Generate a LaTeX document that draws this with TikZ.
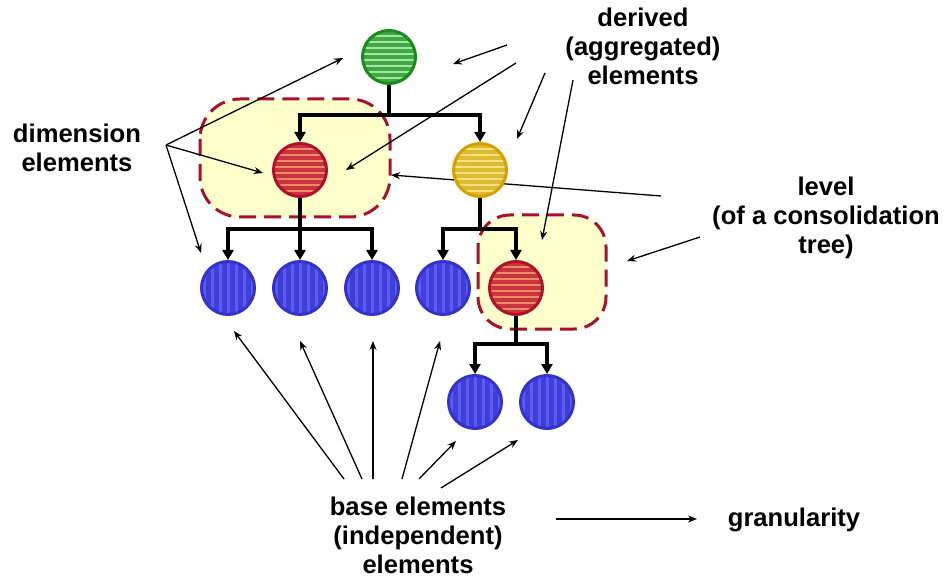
\documentclass[tikz,border=0pt]{standalone}
\usepackage{fontspec}
\setmainfont{Liberation Sans}
\usetikzlibrary{arrows.meta}
\definecolor{boxfill}{HTML}{FFFFCC}
\definecolor{boxline}{HTML}{A8102E}
\definecolor{gline}{HTML}{1A8A1A}
\definecolor{gfill}{HTML}{3FAA3F}
\definecolor{gstr}{HTML}{A6E2A6}
\definecolor{rline}{HTML}{B0102A}
\definecolor{rfill}{HTML}{C8343E}
\definecolor{rstr}{HTML}{EE8A66}
\definecolor{yline}{HTML}{D4A000}
\definecolor{yfill}{HTML}{DDBA30}
\definecolor{ystr}{HTML}{F6E282}
\definecolor{bline}{HTML}{3333CC}
\definecolor{bfill}{HTML}{4040D8}
\definecolor{bstr}{HTML}{5C5CF4}
\tikzset{
  lbl/.style={font=\fontsize{25.6}{29}\selectfont\bfseries, align=center, inner sep=0pt},
  lvlbox/.style={fill=boxfill, draw=boxline, line width=3pt, dash pattern=on 17pt off 8pt},
  ball/.style={circle, minimum size=53pt, inner sep=0pt, line width=3pt},
  hstr/.style={path picture={\foreach \k in {-27,-21,...,27} \draw[#1,line width=2.4pt] ([yshift=\k pt]path picture bounding box.west) -- ([yshift=\k pt]path picture bounding box.east);}},
  vstr/.style={path picture={\foreach \k in {-24,-16,...,24} \draw[#1,line width=3pt] ([xshift=\k pt]path picture bounding box.north) -- ([xshift=\k pt]path picture bounding box.south);}},
  gball/.style={ball, draw=gline, fill=gfill, hstr=gstr},
  rball/.style={ball, draw=rline, fill=rfill, hstr=rstr},
  yball/.style={ball, draw=yline, fill=yfill, hstr=ystr},
  bball/.style={ball, draw=bline, fill=bfill, vstr=bstr},
  tree/.style={line width=3.5pt, -{Triangle[length=10pt,width=11pt]}},
  treeline/.style={line width=3.5pt},
  lab/.style={line width=1.3pt, -{Stealth[length=9pt,width=7pt]}},
}
\begin{document}
\begin{tikzpicture}[x=1pt,y=-1pt]
\useasboundingbox (0,0) rectangle (947,577);
% level boxes
\draw[lvlbox, rounded corners=40pt] (200,99) rectangle (390,217);
\draw[lvlbox, rounded corners=32pt] (478,215) rectangle (606,329);

% text labels
\node[lbl] (dim) at (77,148) {dimension\\elements};
\node[lbl] (der) at (643,46) {derived\\(aggregated)\\elements};
\node[lbl] (lev) at (826,218) {level\\(of a consolidation\\tree)};
\node[lbl] (base) at (418,535) {base elements\\(independent)\\elements};
\node[lbl] (gran) at (794,520) {granularity};

% label arrow coordinates
\coordinate (d0) at (166,145);
\coordinate (dA) at (343,58);
\coordinate (dB) at (263,173);
\coordinate (dC) at (201,253);
\coordinate (e1s) at (507,45);  \coordinate (e1) at (453,64);
\coordinate (e2s) at (516,63);  \coordinate (e2) at (346,170);
\coordinate (e3s) at (545,73);  \coordinate (e3) at (517,139);
\coordinate (e4s) at (573,80);  \coordinate (e4) at (542,240);
\coordinate (l1s) at (661,196); \coordinate (l1) at (391,175);
\coordinate (l2s) at (700,237); \coordinate (l2) at (627,261);
\coordinate (b1s) at (344,479); \coordinate (b1) at (234,331);
\coordinate (b2s) at (362,479); \coordinate (b2) at (300,341);
\coordinate (b3s) at (373,479); \coordinate (b3) at (373,341);
\coordinate (b4s) at (402,479); \coordinate (b4) at (440,341);
\coordinate (b5s) at (419,479); \coordinate (b5) at (456,441);
\coordinate (b6s) at (441,488); \coordinate (b6) at (518,440);
\coordinate (gs) at (556,519);  \coordinate (ge) at (697,519);

\draw[lab] (d0) -- (dA);
\draw[lab] (d0) -- (dB);
\draw[lab] (d0) -- (dC);
\draw[lab] (e1s) -- (e1);
\draw[lab] (e2s) -- (e2);
\draw[lab] (e3s) -- (e3);
\draw[lab] (e4s) -- (e4);
\draw[lab] (l1s) -- (l1);
\draw[lab] (l2s) -- (l2);
\draw[lab] (b1s) -- (b1);
\draw[lab] (b2s) -- (b2);
\draw[lab] (b3s) -- (b3);
\draw[lab] (b4s) -- (b4);
\draw[lab] (b5s) -- (b5);
\draw[lab] (b6s) -- (b6);
\draw[lab] (gs) -- (ge);

% tree nodes
\node[gball] (g) at (389,57) {};
\node[rball] (r1) at (300,170) {};
\node[yball] (y1) at (480,170) {};
\node[bball] (a1) at (228,288) {};
\node[bball] (a2) at (300,288) {};
\node[bball] (a3) at (372,288) {};
\node[bball] (a4) at (443,288) {};
\node[rball] (r2) at (516,288) {};
\node[bball] (a5) at (475,402) {};
\node[bball] (a6) at (547,402) {};

% tree junctions
\coordinate (j0) at (389,115);
\coordinate (j1) at (300,229);
\coordinate (j2) at (480,229);
\coordinate (j3) at (516,344);

\draw[treeline] (g) -- (j0);
\draw[tree] (j0) -| (r1);
\draw[tree] (j0) -| (y1);
\draw[treeline] (r1) -- (j1);
\draw[tree] (j1) -| (a1);
\draw[tree] (j1) -- (a2);
\draw[tree] (j1) -| (a3);
\draw[treeline] (y1) -- (j2);
\draw[tree] (j2) -| (a4);
\draw[tree] (j2) -| (r2);
\draw[treeline] (r2) -- (j3);
\draw[tree] (j3) -| (a5);
\draw[tree] (j3) -| (a6);
\end{tikzpicture}
\end{document}
